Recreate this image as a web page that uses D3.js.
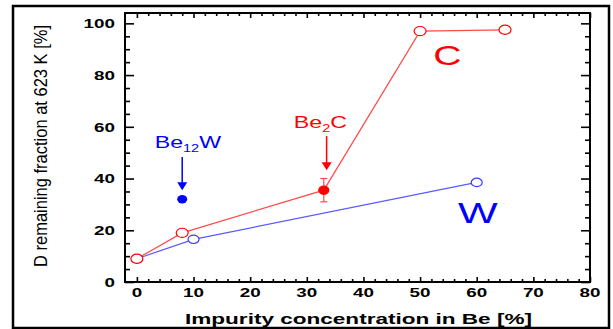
<!DOCTYPE html>
<html>
<head>
<meta charset="utf-8">
<script src="https://cdn.jsdelivr.net/npm/d3@7"></script>
<style>
  body { margin: 0; background: #fff; }
  svg { display: block; font-family: Arial, "Liberation Sans", sans-serif; }
</style>
</head>
<body>
<svg id="chart" width="613" height="329"></svg>
<script>
// --- data ---
const xTicks = [0, 10, 20, 30, 40, 50, 60, 70, 80];
const yTicks = [0, 20, 40, 60, 80, 100];

// C impurity series (red); the 33 % point is the filled Be2C measurement
const cConc = [0, 8, 33, 50, 65];
const cFrac = [9, 19, 35.5, 97, 97.5];
const cFilled = [false, false, true, false, false];
const be2cErr = [31, 40];          // error bar on the Be2C point

// W impurity series (blue)
const wConc = [0, 10, 60];
const wFrac = [9, 16.5, 38.5];

// Be12W single measurement
const be12wConc = [8];
const be12wFrac = [32];

// arrows: [x, from, to]
const arrows = [
  { x: 8, from: 48.3, to: 35.5, color: "#0000ff" },
  { x: 33.5, from: 56.4, to: 43.2, color: "#ff0000" }
];

const SX = 1.45;   // the source picture is stretched sideways
const svg = d3.select("#chart");

const x = d3.scaleLinear().domain([-2.1, 80]).range([125, 590]);
const y = d3.scaleLinear().domain([0, 104]).range([282, 13]);

// outer frame
svg.append("rect")
  .attr("x", 13).attr("y", 6).attr("width", 596).attr("height", 322)
  .attr("fill", "none").attr("stroke", "#000").attr("stroke-width", 2.5);

const plot = svg.append("g");

// ticks (all pointing inward)
function tickAxis(axisFn, scale, vals, size, transform) {
  plot.append("g")
    .attr("transform", transform)
    .call(axisFn(scale).tickValues(vals).tickSize(size).tickFormat(""))
    .call(g => g.select(".domain").remove())
    .call(g => g.selectAll("line").attr("stroke", "#000").attr("stroke-width", 1.6));
}
const xMinor = d3.range(0, 81, 2).filter(v => v % 10 !== 0);
const yMinor = d3.range(0, 101, 5).filter(v => v % 20 !== 0);

tickAxis(d3.axisBottom, x, xTicks, -5, `translate(0,${y(0)})`);
tickAxis(d3.axisBottom, x, xMinor, -3, `translate(0,${y(0)})`);
tickAxis(d3.axisTop, x, xTicks, -5, `translate(0,${y(104)})`);
tickAxis(d3.axisTop, x, xMinor, -3, `translate(0,${y(104)})`);
tickAxis(d3.axisLeft, y, yTicks, -9, `translate(${x(-2.1)},0)`);
tickAxis(d3.axisLeft, y, yMinor, -5, `translate(${x(-2.1)},0)`);
tickAxis(d3.axisRight, y, yTicks, -9, `translate(${x(80)},0)`);
tickAxis(d3.axisRight, y, yMinor, -5, `translate(${x(80)},0)`);

plot.append("rect")
  .attr("x", x(-2.1)).attr("y", y(104))
  .attr("width", x(80) - x(-2.1)).attr("height", y(0) - y(104))
  .attr("fill", "none").attr("stroke", "#000").attr("stroke-width", 2);

// tick labels
plot.selectAll(".xl").data(xTicks).join("text")
  .attr("transform", d => `translate(${x(d)},297) scale(${SX},1)`)
  .attr("text-anchor", "middle").attr("font-size", 13).attr("font-weight", "bold")
  .text(d => d);

plot.selectAll(".yl").data(yTicks).join("text")
  .attr("transform", d => `translate(115,${y(d) + 4.7}) scale(${SX},1)`)
  .attr("text-anchor", "end").attr("font-size", 13).attr("font-weight", "bold")
  .text(d => d);

// axis titles
svg.append("text")
  .attr("x", 185).attr("y", 324)
  .attr("font-size", 14).attr("font-weight", "bold")
  .attr("textLength", 347).attr("lengthAdjust", "spacingAndGlyphs")
  .text("Impurity concentration in Be [%]");

svg.append("text")
  .attr("transform", "translate(47,146) rotate(-90) scale(1,1.35)")
  .attr("text-anchor", "middle").attr("font-size", 14)
  .attr("textLength", 242).attr("lengthAdjust", "spacingAndGlyphs")
  .text("D remaining fraction at 623 K [%]");

// lines
const line = d3.line().x(d => x(d[0])).y(d => y(d[1]));
const wPts = wConc.map((c, i) => [c, wFrac[i]]);
const cPts = cConc.map((c, i) => [c, cFrac[i]]);

plot.append("path").attr("d", line(wPts))
  .attr("fill", "none").attr("stroke", "#5a5aff").attr("stroke-width", 1.2);
plot.append("path").attr("d", line(cPts))
  .attr("fill", "none").attr("stroke", "#ff4a4a").attr("stroke-width", 1.2);

// error bar on Be2C point
const ex = x(cConc[2]);
plot.append("line").attr("x1", ex).attr("x2", ex)
  .attr("y1", y(be2cErr[0])).attr("y2", y(be2cErr[1]))
  .attr("stroke", "#ff4a4a").attr("stroke-width", 1.2);
be2cErr.forEach(v => plot.append("line")
  .attr("x1", ex - 3.5).attr("x2", ex + 3.5).attr("y1", y(v)).attr("y2", y(v))
  .attr("stroke", "#ff4a4a").attr("stroke-width", 1.2));

// markers
plot.selectAll(".wm").data(wPts).join("ellipse")
  .attr("cx", d => x(d[0])).attr("cy", d => y(d[1]))
  .attr("rx", 5.5).attr("ry", 4.2)
  .attr("fill", "#fff").attr("stroke", "#3b3bff").attr("stroke-width", 1.2);

plot.selectAll(".cm").data(cPts).join("ellipse")
  .attr("cx", d => x(d[0])).attr("cy", d => y(d[1]))
  .attr("rx", (d, i) => cFilled[i] ? 5 : 6).attr("ry", (d, i) => cFilled[i] ? 4.2 : 4.6)
  .attr("fill", (d, i) => cFilled[i] ? "#ff0000" : "#fff")
  .attr("stroke", "#ff0000").attr("stroke-width", 1.2);

plot.selectAll(".bm").data(be12wConc).join("ellipse")
  .attr("cx", d => x(d)).attr("cy", (d, i) => y(be12wFrac[i]))
  .attr("rx", 5).attr("ry", 4.2).attr("fill", "#0000ff");

// arrows
arrows.forEach(a => {
  const ax = x(a.x), y0 = y(a.from), y1 = y(a.to);
  plot.append("line").attr("x1", ax).attr("x2", ax)
    .attr("y1", y0).attr("y2", y1 - 7)
    .attr("stroke", a.color).attr("stroke-width", 1.5);
  plot.append("path")
    .attr("d", `M${ax - 5},${y1 - 8} L${ax + 5},${y1 - 8} L${ax},${y1} Z`)
    .attr("fill", a.color);
});

// annotations
function label(px, py, parts, color, size) {
  const t = svg.append("text")
    .attr("transform", `translate(${px},${py}) scale(${SX},1)`)
    .attr("text-anchor", "middle").attr("fill", color).attr("font-size", size);
  parts.forEach(p => {
    const s = t.append("tspan").text(p.t);
    if (p.sub) s.attr("font-size", 10).attr("dy", 4);
    if (p.up) s.attr("dy", -4);
  });
}
label(x(9), y(51.8), [{ t: "Be" }, { t: "12", sub: true }, { t: "W", up: true }], "#0000ff", 16);
label(x(32.4), y(59.6), [{ t: "Be" }, { t: "2", sub: true }, { t: "C", up: true }], "#ff0000", 16);
label(x(54.8), y(83.8), [{ t: "C" }], "#ff0000", 27);
label(x(60.2), y(22.7), [{ t: "W" }], "#0000ff", 29);
</script>
</body>
</html>
